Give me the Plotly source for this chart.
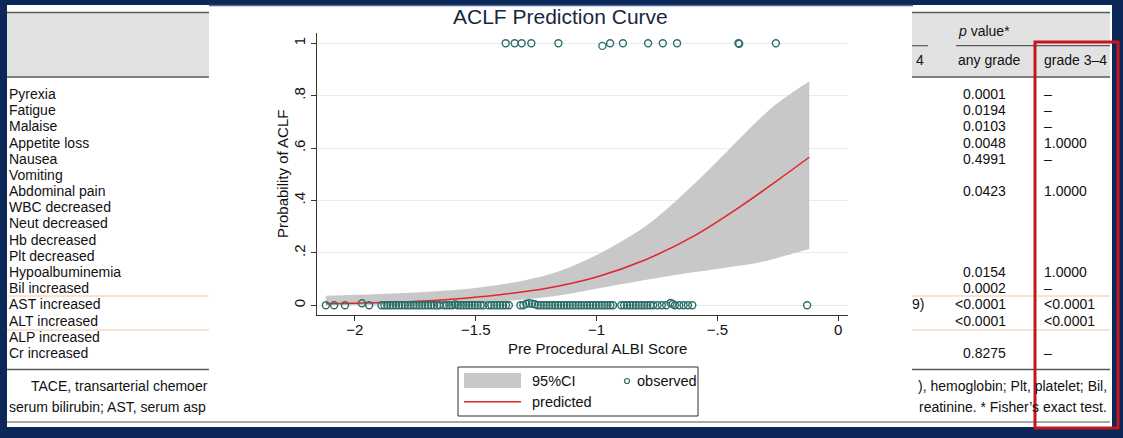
import plotly.graph_objects as go

W, H = 1123, 438

# ---------------- data ----------------
pred_x = [-2.12, -2.0, -1.8, -1.6, -1.4, -1.2, -1.0, -0.8, -0.6, -0.4, -0.25, -0.12]
pred_y = [0.006, 0.008, 0.013, 0.023, 0.040, 0.066, 0.108, 0.173, 0.263, 0.380, 0.478, 0.565]

ci_x = [-2.12, -1.9, -1.7, -1.5, -1.3, -1.15, -1.0, -0.9, -0.8, -0.7, -0.6, -0.5, -0.42, -0.35, -0.26, -0.19, -0.12]
ci_upper = [0.036, 0.043, 0.052, 0.066, 0.095, 0.132, 0.192, 0.243, 0.300, 0.375, 0.460, 0.550, 0.625, 0.690, 0.765, 0.812, 0.855]
ci_lower = [0.001, 0.002, 0.005, 0.010, 0.022, 0.038, 0.063, 0.080, 0.097, 0.112, 0.126, 0.139, 0.150, 0.160, 0.179, 0.197, 0.215]

# observed outcome = 1
obs1_x = [-1.376, -1.339, -1.310, -1.270, -1.158, -0.976, -0.944, -0.891, -0.787, -0.726, -0.667, -0.413, -0.410, -0.258]
obs1_y = [1, 1, 1, 1, 1, 0.99, 1, 1, 1, 1, 1, 1, 0.998, 1]

# observed outcome = 0
obs0_x = [-2.120, -2.086, -2.041, -1.941,
          -1.890, -1.878, -1.866, -1.853, -1.842, -1.830, -1.818, -1.806, -1.793, -1.781, -1.770,
          -1.757, -1.745, -1.733, -1.721, -1.709, -1.697, -1.684, -1.672, -1.660, -1.650,
          -1.632, -1.620, -1.609, -1.597, -1.574, -1.562, -1.551, -1.539, -1.527, -1.516,
          -1.504, -1.492, -1.480, -1.468,
          -1.447, -1.435, -1.423, -1.411, -1.399, -1.387, -1.375, -1.363,
          -1.315, -1.303, -1.243, -1.231, -1.219, -1.207, -1.195, -1.183,
          -1.171, -1.159, -1.147, -1.135, -1.123, -1.111, -1.099, -1.087, -1.075, -1.063, -1.051,
          -1.039, -1.027, -1.015, -1.003, -0.991, -0.979, -0.967, -0.955, -0.943, -0.932,
          -0.898, -0.886, -0.874, -0.862, -0.850, -0.838, -0.826, -0.814, -0.802, -0.790,
          -0.778, -0.766, -0.748, -0.730, -0.712, -0.676, -0.658, -0.640, -0.622, -0.604,
          -0.129]
obs0_y = [0] * len(obs0_x)
# observed outcome = 0, drawn slightly raised in the picture
obs0r_x = [-1.971, -1.585, -1.291, -1.279, -1.267, -1.255, -0.694, -0.685]
obs0r_y = [0.008, 0.003, 0.006, 0.008, 0.006, 0.004, 0.009, 0.005]

x_ticks = [-2, -1.5, -1, -0.5, 0]
x_ticklabels = ["\u22122", "\u22121.5", "\u22121", "\u2212.5", "0"]
y_ticks = [0, 0.2, 0.4, 0.6, 0.8, 1]
y_ticklabels = ["0", ".2", ".4", ".6", ".8", "1"]

row_labels = ["Pyrexia", "Fatigue", "Malaise", "Appetite loss", "Nausea", "Vomiting", "Abdominal pain",
              "WBC decreased", "Neut decreased", "Hb decreased", "Plt decreased", "Hypoalbuminemia",
              "Bil increased", "AST increased", "ALT increased", "ALP increased", "Cr increased"]
p_any = ["0.0001", "0.0194", "0.0103", "0.0048", "0.4991", "", "0.0423", "", "", "", "", "0.0154",
         "0.0002", "<0.0001", "<0.0001", "", "0.8275"]
p_34 = ["\u2013", "\u2013", "\u2013", "1.0000", "\u2013", "", "1.0000", "", "", "", "", "1.0000",
        "\u2013", "<0.0001", "<0.0001", "", "\u2013"]

# ---------------- helpers ----------------
def fx(p):
    return p / W


def fy(p):
    return 1 - p / H


NAVY = "#0c2858"
TEAL = "#2d6e6b"
AR = "Liberation Sans, Arial, sans-serif"
TF = "Liberation Sans, Arial, sans-serif"

fig = go.Figure()

fig.add_trace(go.Scatter(x=ci_x, y=ci_lower, mode="lines", line=dict(width=0, color="#c8c8c8", shape="spline"),
                         showlegend=False, hoverinfo="skip"))
fig.add_trace(go.Scatter(x=ci_x, y=ci_upper, mode="lines", line=dict(width=0, color="#c8c8c8", shape="spline"),
                         fill="tonexty", fillcolor="#c8c8c8", name="95%CI", showlegend=False))
fig.add_trace(go.Scatter(x=pred_x, y=pred_y, mode="lines", line=dict(color="#e0252b", width=1.5, shape="spline"),
                         name="predicted", showlegend=False))
mk = dict(symbol="circle-open", size=7, color=TEAL, line=dict(width=1.4, color=TEAL))
fig.add_trace(go.Scatter(x=obs0_x + obs0r_x + obs1_x, y=obs0_y + obs0r_y + obs1_y, mode="markers",
                         name="observed", marker=mk, showlegend=False, cliponaxis=False))

# ---------------- shapes ----------------
shapes = []


def rect(x0, y0, x1, y1, fill=None, line=None, lw=0, layer="below"):
    shapes.append(dict(type="rect", xref="paper", yref="paper", x0=fx(x0), x1=fx(x1), y0=fy(y1), y1=fy(y0),
                       fillcolor=fill if fill else "rgba(0,0,0,0)",
                       line=dict(color=line if line else "rgba(0,0,0,0)", width=lw), layer=layer))


def hline(x0, x1, y, color, lw, layer="below"):
    shapes.append(dict(type="line", xref="paper", yref="paper", x0=fx(x0), x1=fx(x1), y0=fy(y), y1=fy(y),
                       line=dict(color=color, width=lw), layer=layer))


rect(7, 5, 1112, 427, fill="white")
rect(7, 12, 209, 77, fill="#e2e2e2")
rect(912, 12, 1110, 77, fill="#e2e2e2")
for (a, b) in [(7, 209), (912, 1110)]:
    hline(a, b, 12.5, "#5a5a5a", 1.5)
    hline(a, b, 77, "#5a5a5a", 1.5)
    hline(a, b, 296, "#efc9a6", 1)
    hline(a, b, 330, "#efc9a6", 1)
    hline(a, b, 369.5, "#5a5a5a", 1.5)
hline(912, 928, 45.7, "#5a5a5a", 1.2)
hline(956, 1110, 45.7, "#5a5a5a", 1.2)
hline(7, 1110, 422, "#8a8a8a", 1.5)
hline(209, 913, 5.5, "#4a6a9a", 1.5)

# legend
rect(458, 367, 698, 416, line="#333333", lw=1, layer="above")
rect(464, 373, 521, 388, fill="#c8c8c8", layer="above")
hline(464, 521, 401.7, "#e0252b", 1.5, layer="above")
shapes.append(dict(type="circle", xref="paper", yref="paper", x0=fx(624.5), x1=fx(629.5), y0=fy(383.5), y1=fy(378.5),
                   line=dict(color=TEAL, width=1.2), fillcolor="rgba(0,0,0,0)", layer="above"))

# red highlight box
rect(1035, 42, 1118, 428, line="#c4161c", lw=3, layer="above")

# ---------------- annotations ----------------
ann = []


def text(x, y, s, size=14, xanchor="left", color="#111111", family=TF, angle=0):
    ann.append(dict(xref="paper", yref="paper", x=fx(x), y=fy(y), text=s, showarrow=False,
                    xanchor=xanchor, yanchor="middle", textangle=angle, borderpad=0,
                    font=dict(size=size, color=color, family=family)))


row_y0, row_dy = 94, 16.18
for i, lab in enumerate(row_labels):
    y = row_y0 + i * row_dy
    text(7.5, y, lab)
    if p_any[i]:
        text(1007, y, p_any[i], xanchor="right")
    if p_34[i]:
        text(1043, y, p_34[i])
text(911, row_y0 + 13 * row_dy, "9)")

text(957, 31, "<i>p</i> value*")
text(957, 60, "any grade")
text(1043, 60, "grade 3\u20134")
text(915, 60, "4")

text(30, 386, "TACE, transarterial chemoer")
text(7.5, 407, "serum bilirubin; AST, serum asp")
text(1108, 386, "), hemoglobin; Plt, platelet; Bil,", xanchor="right")
text(1108, 407, "reatinine. * Fisher\u2019s exact test.", xanchor="right")

text(560, 17, "ACLF Prediction Curve", size=21, xanchor="center", color="#1a2640", family=AR)
text(597, 348, "Pre Procedural ALBI Score", size=15, xanchor="center", color="#111111", family=AR)
text(282, 174, "Probability of ACLF", size=15, xanchor="center", color="#111111", family=AR, angle=-90)
text(530.5, 381, "95%CI", size=14.5, family=AR)
text(636, 381, "observed", size=14.5, family=AR)
text(530.5, 402, "predicted", size=14.5, family=AR)

fig.update_layout(
    width=W, height=H, margin=dict(l=0, r=0, t=0, b=0),
    paper_bgcolor=NAVY, plot_bgcolor="white",
    shapes=shapes, annotations=ann, showlegend=False,
    xaxis=dict(domain=[fx(316.7), fx(847.7)], range=[-2.158, 0.039], tickvals=x_ticks, ticktext=x_ticklabels,
               showgrid=False, zeroline=False, showline=True, linecolor="#333333", linewidth=1.2,
               ticks="outside", ticklen=5, tickcolor="#333333", tickwidth=1.2, ticklabelstandoff=-4,
               tickfont=dict(size=15, family=AR, color="#111111")),
    yaxis=dict(domain=[fy(315), fy(33.3)], range=[-0.037, 1.038], tickvals=y_ticks, ticktext=y_ticklabels,
               showgrid=True, gridcolor="#e3ecee", gridwidth=1, zeroline=False, showline=True,
               linecolor="#333333", linewidth=1.2, ticks="outside", ticklen=5, tickcolor="#333333", tickwidth=1.2,
               tickangle=-90, tickfont=dict(size=15, family=AR, color="#111111")),
)

fig.write_html("out.html")
